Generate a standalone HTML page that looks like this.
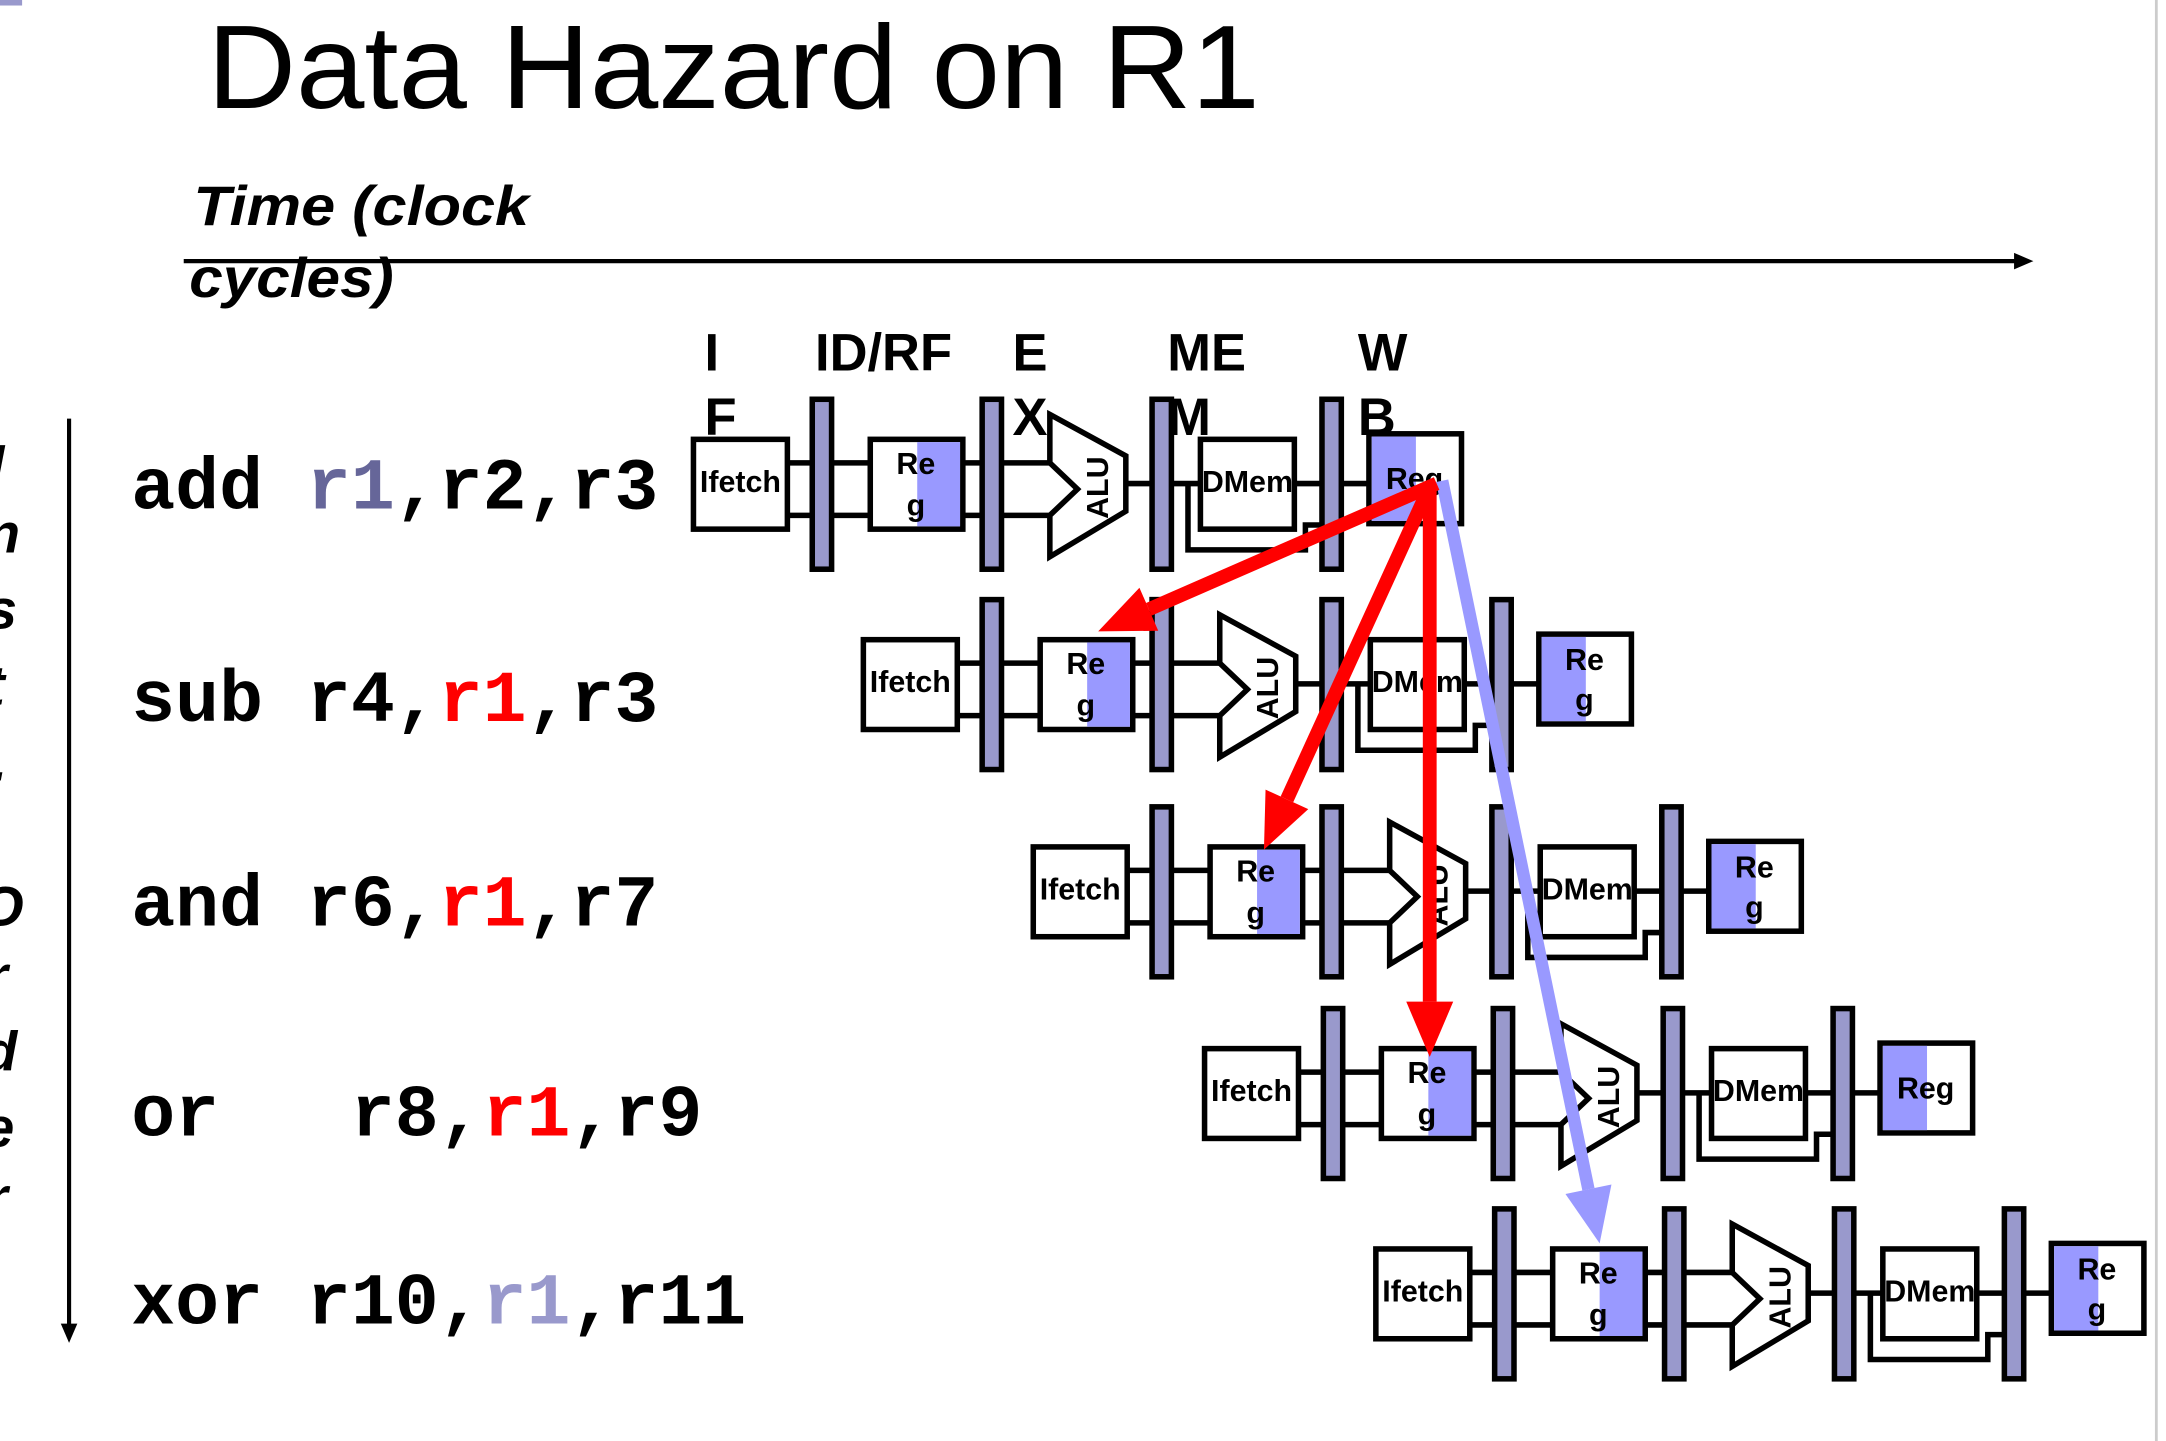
<!DOCTYPE html>
<html><head><meta charset="utf-8"><style>
html,body{margin:0;padding:0;background:#fff;width:2166px;height:1441px;overflow:hidden}
svg{display:block}
.c{font-family:"Liberation Sans",sans-serif;font-weight:bold}
.m{font-family:"Liberation Mono",monospace;font-weight:bold;font-size:53px;white-space:pre}
</style></head><body>
<svg id="s" width="2166" height="1441" viewBox="0 0 1568 1043" preserveAspectRatio="none">
<line x1="1561" y1="0" x2="1561" y2="1043" stroke="#ccc" stroke-width="2"/>
<rect x="0" y="0" width="16" height="4" fill="#9999cc"/>
<text x="150" y="78" font-family="Liberation Sans,sans-serif" font-size="86" textLength="762" lengthAdjust="spacingAndGlyphs">Data Hazard on R1</text>
<text class="c" x="140" y="163" font-size="40" font-style="italic" textLength="243" lengthAdjust="spacingAndGlyphs">Time (clock</text>
<text class="c" x="137" y="215" font-size="40" font-style="italic" textLength="148" lengthAdjust="spacingAndGlyphs">cycles)</text>
<line x1="133" y1="189" x2="1460" y2="189" stroke="#000" stroke-width="3"/>
<polygon points="1472,189 1458,183 1458,195" fill="#000"/>
<g class="c" font-size="38">
<text x="510" y="268">I</text><text x="510" y="315">F</text>
<text x="590" y="268">ID/RF</text>
<text x="733" y="268">E</text><text x="733" y="315">X</text>
<text x="845" y="268">ME</text><text x="845" y="315">M</text>
<text x="983" y="268">W</text><text x="983" y="315">B</text>
</g>
<line x1="50" y1="303" x2="50" y2="960" stroke="#000" stroke-width="3"/>
<polygon points="50,972 44,958 56,958" fill="#000"/>
<g class="c" font-size="40" font-style="italic">
<text x="-8" y="350">I</text><text x="-10" y="400">n</text><text x="-10" y="455">s</text><text x="-10" y="510">t</text><text x="-6" y="565">.</text>
<text x="-14" y="670">O</text><text x="-10" y="720">r</text><text x="-12" y="775">d</text><text x="-12" y="830">e</text><text x="-10" y="880">r</text>
</g>
<text class="m" x="95" y="368">add <tspan fill="#666699">r1</tspan>,r2,r3</text>
<text class="m" x="95" y="522">sub r4,<tspan fill="#ff0000">r1</tspan>,r3</text>
<text class="m" x="95" y="670">and r6,<tspan fill="#ff0000">r1</tspan>,r7</text>
<text class="m" x="95" y="822">or&#160;&#160;&#160;r8,<tspan fill="#ff0000">r1</tspan>,r9</text>
<text class="m" x="95" y="958">xor r10,<tspan fill="#9999cc">r1</tspan>,r11</text>
<g id="rows"></g>
<g id="arrows"></g>
</svg>
<script>
const NS="http://www.w3.org/2000/svg";
const rowX=[502,625,748,872,996];
const rowY=[318,463,613,759,904];
const wbText=["Reg","Re|g","Re|g","Reg","Re|g"];
const rows=document.getElementById('rows');
function mk(tag,a,p){const e=document.createElementNS(NS,tag);for(const k in a)e.setAttribute(k,a[k]);(p||rows).appendChild(e);return e;}
function txt(x,y,s,size,p){const t=mk('text',{x:x,y:y,'font-size':size,'text-anchor':'middle',class:'c'},p);t.textContent=s;return t;}
rowX.forEach((X,i)=>{
 const Y=rowY[i];
 const g=mk('g',{});
 
 
 const L={stroke:'#000','stroke-width':4,fill:'none'};
 mk('polyline',Object.assign({points:`${X+68},${Y+17} ${X+258},${Y+17}`},L),g);
 mk('polyline',Object.assign({points:`${X+68},${Y+55} ${X+258},${Y+55}`},L),g);
 mk('polyline',Object.assign({points:`${X+313},${Y+32} ${X+367},${Y+32}`},L),g);
 mk('polyline',Object.assign({points:`${X+435},${Y+32} ${X+489},${Y+32}`},L),g);
 mk('polyline',Object.assign({points:`${X+358},${Y+32} ${X+358},${Y+80} ${X+443},${Y+80} ${X+443},${Y+62} ${X+458},${Y+62}`},L),g);
 const f=mk('rect',{x:X,y:Y,width:68,height:65,fill:'#fff',stroke:'#000','stroke-width':4},g);
 
 
 txt(X+34,Y+38,'Ifetch',22,g);
 const r=mk('rect',{x:X+128,y:Y,width:67,height:65,fill:'#fff',stroke:'#000','stroke-width':4},g);
 
 
 mk('rect',{x:X+162,y:Y+2,width:31,height:61,fill:'#9999ff'},g);
 txt(X+161,Y+25,'Re',22,g);txt(X+161,Y+55,'g',22,g);
 const a=mk('polygon',{points:`${X+258},${Y-18} ${X+313},${Y+12} ${X+313},${Y+52} ${X+258},${Y+85} ${X+258},${Y+55} ${X+278},${Y+36} ${X+258},${Y+17}`,fill:'#fff',stroke:'#000','stroke-width':4},g);
 
 
 const at=txt(0,0,'ALU',22,g);at.setAttribute('transform',`translate(${X+300},${Y+35}) rotate(-90)`);
 const d=mk('rect',{x:X+367,y:Y,width:68,height:65,fill:'#fff',stroke:'#000','stroke-width':4},g);
 
 
 txt(X+401,Y+38,'DMem',22,g);
 const w=mk('rect',{x:X+489,y:Y-4,width:67,height:65,fill:'#fff',stroke:'#000','stroke-width':4},g);
 
 
 mk('rect',{x:X+491,y:Y-2,width:32,height:61,fill:'#9999ff'},g);
 const parts=wbText[i].split('|');
 if(parts.length==1)txt(X+522,Y+36,parts[0],22,g);else{txt(X+522,Y+22,parts[0],22,g);txt(X+522,Y+51,parts[1],22,g);}
 [86,209,332,455].forEach(bx=>{
  const b=mk('rect',{x:X+bx,y:Y-29,width:14,height:123,fill:'#9999cc',stroke:'#000','stroke-width':4},g);
  
  
 });
});
const ar=document.getElementById('arrows');
function arrow(x1,y1,x2,y2,col,w,name){
 const dx=x2-x1,dy=y2-y1,l=Math.hypot(dx,dy),ux=dx/l,uy=dy/l,h=40,hw=17;
 const bx=x2-ux*h,by=y2-uy*h;
 const ln=mk('line',{x1:x1,y1:y1,x2:bx,y2:by,stroke:col,'stroke-width':w},ar);
 
 
 mk('polygon',{points:`${x2},${y2} ${bx-uy*hw},${by+ux*hw} ${bx+uy*hw},${by-ux*hw}`,fill:col},ar);
}
arrow(1044,348,1158,900,'#9999ff',9,'forward-arrow-xor');
arrow(1040,350,795,457,'#ff0000',10,'hazard-arrow-sub');
arrow(1036,350,915,615,'#ff0000',10,'hazard-arrow-and');
arrow(1035,350,1035,765,'#ff0000',10,'hazard-arrow-or');
</script>
</body></html>
